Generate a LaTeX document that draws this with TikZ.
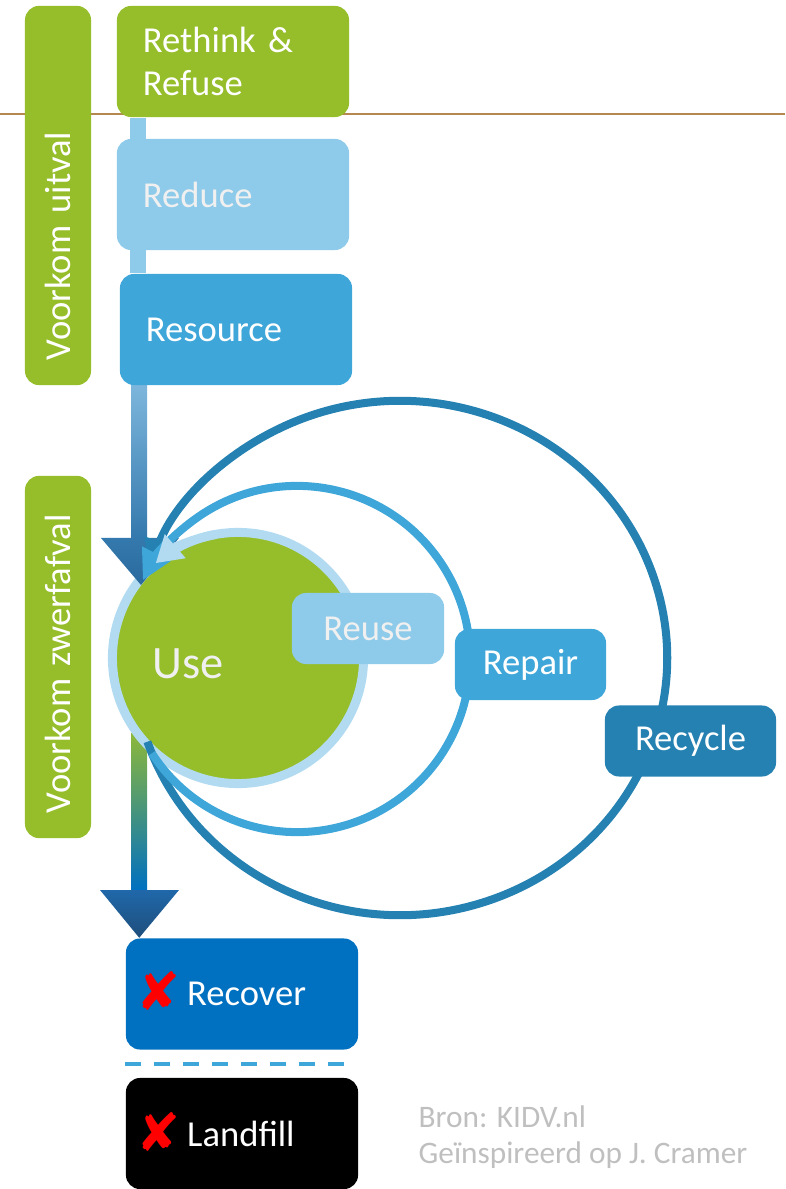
\documentclass[tikz,border=0pt]{standalone}
\usepackage{fontspec}
\setmainfont{Carlito}
\newfontfamily\crossfont{DejaVu Sans}
\usetikzlibrary{arrows.meta, calc}

\definecolor{kgreen}{HTML}{95BE2A}
\definecolor{kgreenB}{HTML}{8DB83A}
\definecolor{klight}{HTML}{8ECAE9}
\definecolor{kmid}{HTML}{3EA6D8}
\definecolor{kdark}{HTML}{2581B1}
\definecolor{kdeep}{HTML}{0070C0}
\definecolor{kring}{HTML}{B2DBF1}
\definecolor{kline}{HTML}{B4884E}
\definecolor{kgrey}{HTML}{BFBFBF}
\definecolor{kpale}{HTML}{F0F0F0}
\definecolor{kred}{HTML}{FF0000}
\definecolor{kfade}{HTML}{7DB6DC}
\definecolor{kflowA}{HTML}{3479AD}
\definecolor{kflowB}{HTML}{2A6A9E}
\definecolor{kteal}{HTML}{3A8D92}
\definecolor{kdownA}{HTML}{2068AA}
\definecolor{kdownB}{HTML}{1E4E7B}

\pgfdeclarelayer{circ}
\pgfdeclarelayer{top}
\pgfdeclarelayer{front}
\pgfsetlayers{main,circ,top,front}

\newcommand{\nope}{\smash{\raisebox{-1.5pt}{\crossfont\fontsize{15}{15}\selectfont\color{kred}✘}}}

\begin{document}
\begin{tikzpicture}[x=0.01cm, y=-0.01cm, font=\fontsize{10.4}{12.4}\selectfont,
    rbox/.style={rounded corners=4pt, minimum height=1.11cm, inner xsep=0.26cm, text width=1.80cm, align=left, text=white},
    sbox/.style={rounded corners=4pt, minimum height=0.71cm, inner sep=0pt, align=center, text=white},
    vbar/.style={fill=kgreen, rounded corners=4pt, rotate=90, minimum height=0.66cm, inner xsep=0.25cm, align=left, text=white},
    backflow/.style={line width=2.28pt, -{Triangle[length=0.3cm, width=0.3cm]}}]

      \useasboundingbox (0,0) rectangle (785,1189);

      \begin{pgfonlayer}{front}
      \node[vbar, text width=3.29cm]                              (VU)  at ( 58.0,  195.5) {Voorkom uitval};
      \node[vbar, text width=3.12cm]                              (VZ)  at ( 58.0,  657.0) {Voorkom zwerfafval};

      \node[rbox, fill=kgreen]                                    (RR)  at (233.0,   61.5) {Rethink \&\\Refuse};
      \node[rbox, fill=klight, text=kpale]                        (RD)  at (233.0,  194.5) {Reduce};
      \node[rbox, fill=kmid]                                      (RS)  at (236.0,  329.5) {Resource};

      \node[sbox, fill=klight, text=kpale, minimum width=1.52cm]  (RU)  at (368.0,  628.5) {Reuse};
      \node[sbox, fill=kmid, minimum width=1.51cm]                (RP)  at (530.5,  664.5) {Repair};
      \node[sbox, fill=kdark, minimum width=1.71cm]               (RC)  at (690.5,  741.0) {Recycle};

      \node[rbox, fill=kdeep, inner xsep=0.11cm, text width=2.10cm] (RV) at (242.0,  994.0) {\nope\,Recover};
      \node[rbox, fill=black, inner xsep=0.11cm, text width=2.10cm] (LF) at (242.0, 1133.5) {\nope\,Landfill};

      \node[anchor=base west, inner sep=0pt, align=left, text=kgrey, font=\fontsize{8.9}{10.2}\selectfont] (BR) at (418, 1163) {Bron: KIDV.nl\\Geïnspireerd op J. Cramer};
      \end{pgfonlayer}

      \begin{pgfonlayer}{circ}
      \node[circle, fill=kgreen, draw=kring, line width=2.56pt, minimum size=2.51cm, inner sep=0pt] (U) at (238, 658) {};
      \node[anchor=base west, inner sep=0pt, text=kpale, font=\fontsize{13.2}{15}\selectfont] (UT) at (152, 678) {Use};
      \end{pgfonlayer}

      \draw[kline, line width=0.6pt] (0,114) -- (785,114);
      \draw[kmid, line width=1.1pt, dash pattern=on 0.16cm off 0.13cm] ($(RV.south west)!0.5!(LF.north west)$) -- ($(RV.south east)!0.5!(LF.north east)+(-11,0)$);

      \coordinate (A1) at (139, 538);
      \coordinate (T1) at (141, 585);
      \coordinate (A2) at (139, 890);
      \coordinate (T2) at ($(RV.north west)+(14,0)$);

      \fill[klight] ($(A1 |- RR.south)+(-9,0)$) rectangle ($(A1 |- RS.north)+(7,0)$);
      \shade[top color=kfade, bottom color=kflowA] ($(A1 |- RS.south)+(-8,0)$) rectangle ($(A1)+(8,0)$);
      \shade[top color=kgreenB, middle color=kteal, bottom color=kdeep] ($(A2 |- U.center)+(-8,75)$) rectangle ($(A2)+(8,0)$);

      \begin{pgfonlayer}{top}
      \shade[top color=kflowA, bottom color=kflowB] ($(A1)+(-38,0)$) -- ($(A1)+(40,0)$) -- (T1) -- cycle;
      \shade[top color=kdownA, bottom color=kdownB] ($(A2)+(-39,0)$) -- ($(A2)+(40,0)$) -- (T2) -- cycle;

      \coordinate (C2) at (297, 659);
      \coordinate (C3) at (400, 658);
      \draw[backflow, kdark] ([shift={(-161:2.67cm and 2.57cm)}]C3) arc[start angle=-161, end angle=160, x radius=2.67cm, y radius=2.57cm];
      \draw[backflow, kmid]  ([shift={(-147:1.73cm)}]C2) arc[start angle=-147, end angle=153, radius=1.73cm];
      \draw[kring, line width=2.56pt, -{Triangle[length=0.26cm, width=0.3cm]}] ([shift={(100:1.255cm)}]U.center) arc[start angle=100, end angle=131, radius=1.255cm];
      \end{pgfonlayer}
\end{tikzpicture}
\end{document}
